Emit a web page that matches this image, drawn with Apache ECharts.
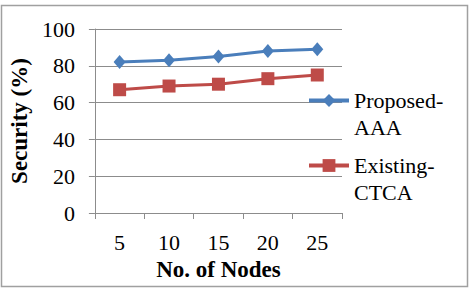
<!DOCTYPE html>
<html>
<head>
<meta charset="utf-8">
<script src="https://cdn.jsdelivr.net/npm/echarts@6/dist/echarts.min.js"></script>
<style>
  html, body { margin: 0; padding: 0; background: #fff; }
  #chart { width: 471px; height: 290px; }
</style>
</head>
<body>
<div id="chart"></div>
<script>
const nodes = ["5", "10", "15", "20", "25"]
const proposedAAA = [82, 83, 85, 88, 89]
const existingCTCA = [67, 69, 70, 73, 75]

const serif = "Liberation Serif"
const gridGray = "#8c8c8c"

const chart = echarts.init(document.getElementById("chart"), null, { renderer: "svg" })

const plain = { fontFamily: serif, fontSize: 22, color: "#000" }
// blank first line so the icon sits beside the first text line
const splitName = n => "\u00a0\n" + n.replace("-", "-\n")

const legendBase = {
    orient: "vertical",
    left: 307, padding: 0,
    itemWidth: 40, itemHeight: 16,
    lineStyle: { width: 4 },
    formatter: splitName,
    textStyle: Object.assign({ lineHeight: 27 }, plain)
}

chart.setOption({
    animation: false,
    backgroundColor: "#fff",
    textStyle: { fontFamily: serif },
    graphic: [{
        type: "rect",
        shape: { x: 1.5, y: 5.5, width: 466, height: 281 },
        style: { fill: "none", stroke: "#a0a0a0", lineWidth: 1.5 }
    }],
    grid: { left: 82, right: 129, top: 29, bottom: 77 },
    legend: [
        Object.assign({ data: ["Proposed-AAA"], top: 60 }, legendBase),
        Object.assign({ data: ["Existing-CTCA"], top: 125 }, legendBase)
    ],
    xAxis: {
        type: "category",
        data: nodes,
        boundaryGap: true,
        name: "No. of Nodes",
        nameLocation: "middle",
        nameGap: 44,
        nameTextStyle: { fontFamily: serif, fontSize: 23, fontWeight: "bold", color: "#000" },
        axisLine: { lineStyle: { color: gridGray, width: 1 } },
        axisTick: { show: true, length: 6, alignWithLabel: false, lineStyle: { color: gridGray } },
        axisLabel: Object.assign({ margin: 18, interval: 0 }, plain)
    },
    yAxis: {
        type: "value",
        min: 0, max: 100, interval: 20,
        name: "Security (%)",
        nameLocation: "middle",
        nameGap: 46,
        nameTextStyle: { fontFamily: serif, fontSize: 23, fontWeight: "bold", color: "#000" },
        axisLine: { show: true, lineStyle: { color: gridGray, width: 1 } },
        axisTick: { show: true, length: 6, lineStyle: { color: gridGray } },
        axisLabel: Object.assign({ margin: 20 }, plain),
        splitLine: { lineStyle: { color: gridGray, width: 1 } }
    },
    series: [
        {
            name: "Proposed-AAA",
            type: "line",
            data: proposedAAA,
            symbol: "diamond",
            symbolSize: [12, 14],
            itemStyle: { color: "#4a7ebb" },
            lineStyle: { color: "#4a7ebb", width: 3 }
        },
        {
            name: "Existing-CTCA",
            type: "line",
            data: existingCTCA,
            symbol: "rect",
            symbolSize: 13,
            itemStyle: { color: "#be4b48" },
            lineStyle: { color: "#be4b48", width: 3 }
        }
    ]
})
</script>
</body>
</html>
